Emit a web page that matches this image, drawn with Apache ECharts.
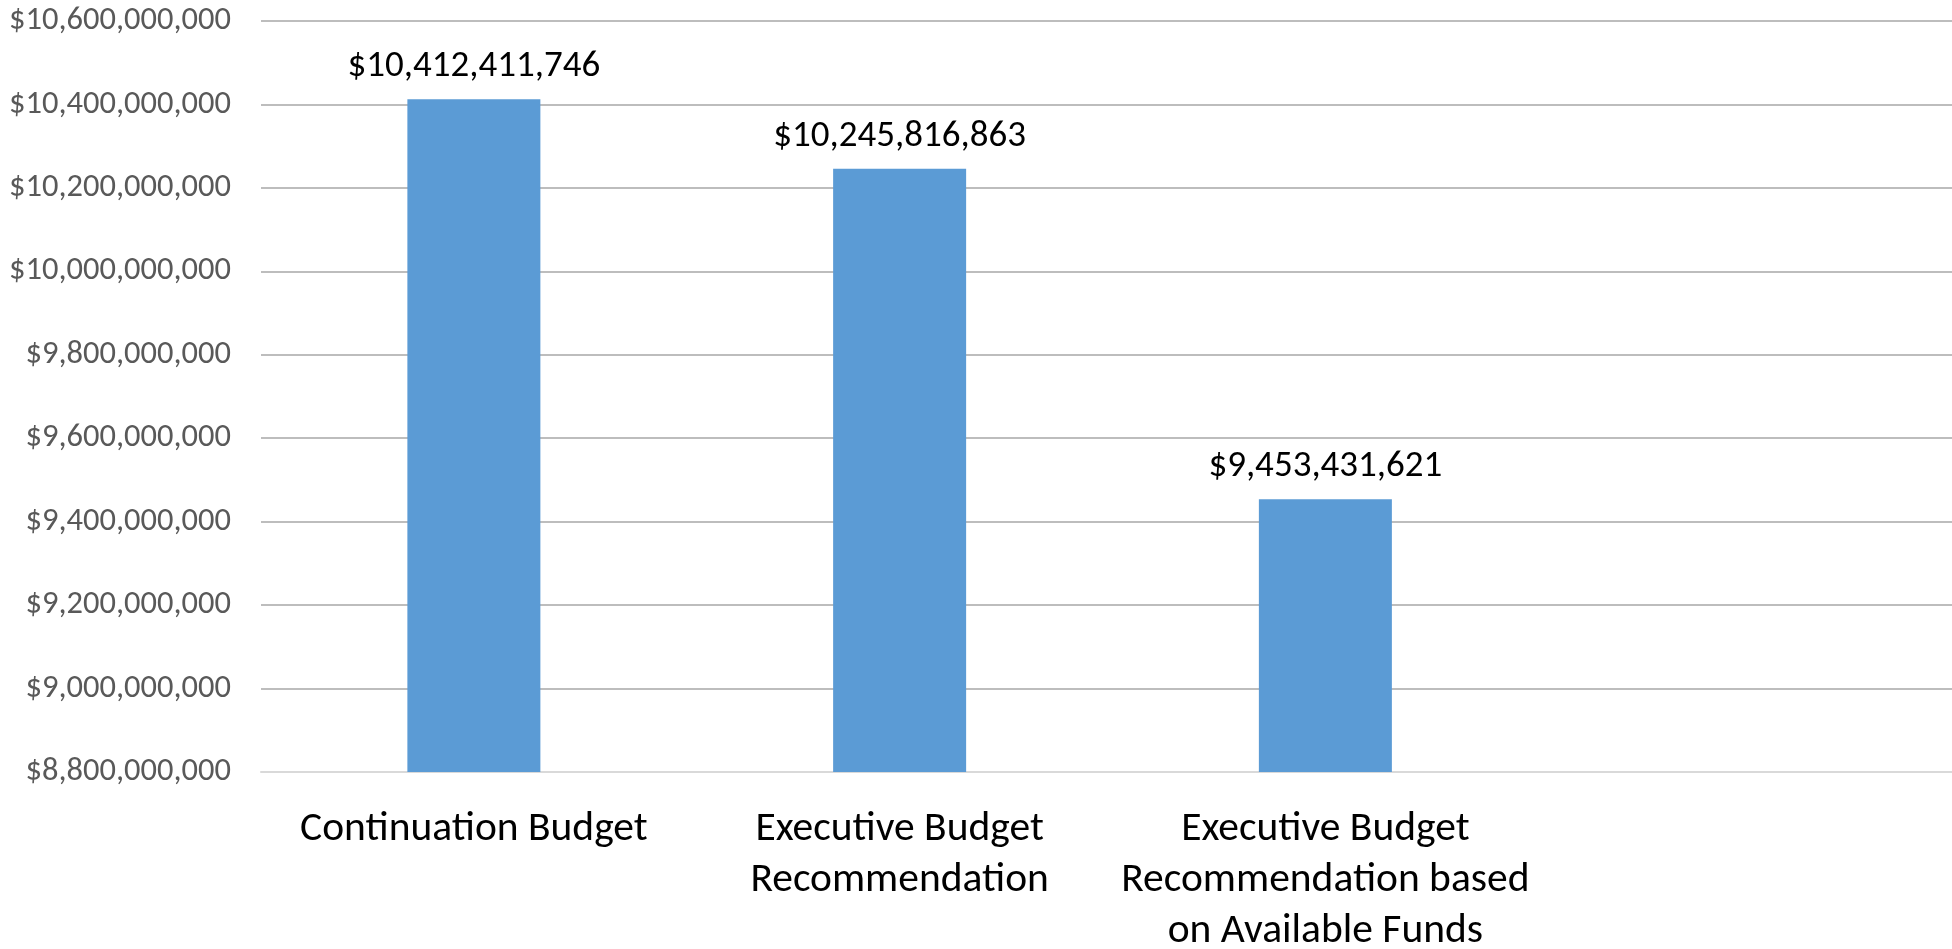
<!DOCTYPE html>
<html>
<head>
<meta charset="utf-8">
<title>Budget comparison</title>
<script src="https://cdn.jsdelivr.net/npm/echarts@6/dist/echarts.min.js"></script>
<style>
  html, body { margin: 0; padding: 0; background: #fff; }
  #chart { width: 1952px; height: 949px; }
</style>
</head>
<body>
<div id="chart"></div>
<script>
// categories (4th slot is empty in the source chart)
const categories = [
  "Continuation Budget",
  "Executive Budget\nRecommendation",
  "Executive Budget\nRecommendation based\non Available Funds",
  ""
];
const budgetValues = [10412411746, 10245816863, 9453431621, null];

const yMin = 8800000000;
const yMax = 10600000000;
const yStep = 200000000;

const FONT = "Carlito, Lato, 'Open Sans', sans-serif";
const money = (v) => "$" + Math.round(v).toLocaleString("en-US");

const chart = echarts.init(document.getElementById("chart"), null, { renderer: "canvas" });

chart.setOption({
  animation: false,
  backgroundColor: "#ffffff",
  textStyle: { fontFamily: FONT },
  // outerBoundsMode none: keep the plot box fixed, labels may hang outside it
  grid: { left: 261, right: -12, top: 21, bottom: 177, containLabel: false, outerBoundsMode: "none" },
  xAxis: {
    type: "category",
    data: categories,
    axisLine: { show: true, lineStyle: { color: "#d9d9d9", width: 2 } },
    axisTick: { show: false },
    axisLabel: {
      interval: 0,
      color: "#000000",
      fontSize: 41.5,
      fontFamily: FONT,
      lineHeight: 51,
      margin: 32,
      align: "center"
    }
  },
  yAxis: {
    type: "value",
    min: yMin,
    max: yMax,
    interval: yStep,
    axisLine: { show: false },
    axisTick: { show: false },
    axisLabel: {
      color: "#595959",
      fontSize: 32.5,
      fontFamily: FONT,
      margin: 30,
      formatter: money
    },
    splitLine: { show: true, lineStyle: { color: "#bdbdbd", width: 2 } }
  },
  series: [
    {
      type: "bar",
      data: budgetValues,
      barWidth: 133,
      itemStyle: { color: "#5b9bd5" },
      label: {
        show: true,
        position: "top",
        distance: 14,
        color: "#000000",
        fontSize: 37,
        fontFamily: FONT,
        formatter: (p) => money(p.value)
      }
    }
  ]
});
</script>
</body>
</html>
